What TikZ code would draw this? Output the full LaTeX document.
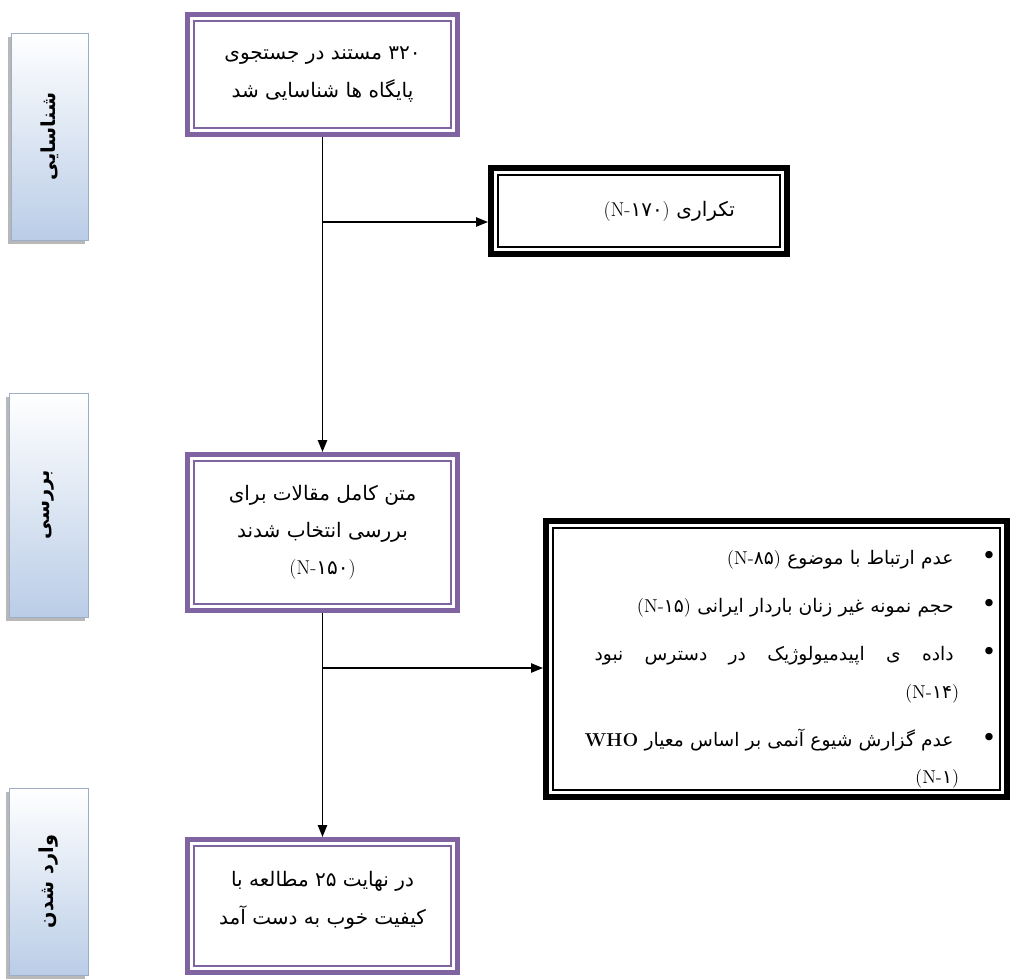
\documentclass[tikz,border=0pt]{standalone}
\usepackage{fontspec}
\usepackage{graphicx}
\usetikzlibrary{arrows.meta,shadows}
\TeXXeTstate=1
\newfontfamily\fafont[Script=Arabic]{DejaVu Sans}
\newfontfamily\fanum{DejaVu Sans}
\newcommand{\faline}[1]{\beginR#1\endR}
\newcommand{\nval}[1]{\beginL{\rmfamily(N-}{\fanum#1}{\rmfamily)}\endL}
\newcommand{\fabullet}{{\fontsize{19}{28}\selectfont•}\hspace{21pt}}
\newcommand{\sidetext}[1]{\rotatebox{90}{\fafont\bfseries\fontsize{14.5}{16}\selectfont\faline{#1}}}
\definecolor{boxPurple}{RGB}{128,100,162}
\definecolor{sideBlue}{RGB}{186,205,231}
\definecolor{sideEdge}{RGB}{158,174,198}
\tikzset{
  stagebox/.style={draw=boxPurple, line width=3.5pt, fill=white, minimum width=202.75pt,
    align=center, font=\fafont\fontsize{15}{28}\selectfont},
  innerPurple/.style={draw=boxPurple, line width=1.1pt},
  excludebox/.style={draw=black, line width=4.5pt, fill=white, font=\fafont\fontsize{15}{28}\selectfont},
  innerBlack/.style={draw=black, line width=1.1pt},
  sidelabel/.style={draw=sideEdge, line width=0.6pt, top color=white, bottom color=sideBlue,
    drop shadow={shadow xshift=-2.5pt, shadow yshift=-3pt, fill=gray!70, opacity=0.8}},
  flowline/.style={line width=1.1pt, -{Triangle[length=9pt,width=7pt]}}
}
\begin{document}
\begin{tikzpicture}[x=0.75pt,y=0.75pt,yscale=-1,xscale=1]
\useasboundingbox (0,0) rectangle (1013,978);

%Side labels
\node[sidelabel, minimum width=57.75pt, minimum height=155.25pt] (lbIdent) at (49.5,136.5) {\sidetext{شناسایی}};
\node[sidelabel, minimum width=59.25pt, minimum height=168pt] (lbScreen) at (48.5,505) {\sidetext{بررسی}};
\node[sidelabel, minimum width=59.25pt, minimum height=140.25pt] (lbIncl) at (48.5,881.5) {\sidetext{وارد شدن}};

%Shape: Rectangle [identification]
\node[stagebox, minimum height=90.25pt] (ident) at (322.5,74.5)
  {\faline{۳۲۰ مستند در جستجوی}\\\faline{پایگاه ها شناسایی شد}};
%Shape: Rectangle [screening]
\node[stagebox, minimum height=117.25pt] (screen) at (322.5,532.5)
  {\faline{متن کامل مقالات برای}\\\faline{بررسی انتخاب شدند}\\\faline{\nval{۱۵۰}}};
%Shape: Rectangle [included]
\node[stagebox, minimum height=100pt] (incl) at (322.5,906)
  {\faline{در نهایت ۲۵ مطالعه با}\\\faline{کیفیت خوب به دست آمد}\rule[-12pt]{0pt}{12pt}};

%Shape: Rectangle [duplicates]
\node[excludebox, minimum width=222pt, minimum height=64.5pt, text width=144pt, align=right] (dup) at (639,211)
  {\faline{تکراری \nval{۱۷۰}}};
%Shape: Rectangle [excluded]
\node[excludebox, font=\fafont\fontsize{14}{28}\selectfont, minimum width=345.75pt, minimum height=207pt,
    text width=330pt, align=right] (excl) at (776.5,659)
  {\faline{\fabullet عدم ارتباط با موضوع \nval{۸۵}}\rule{0pt}{26pt}\\[8.25pt]
   \faline{\fabullet حجم نمونه غیر زنان باردار ایرانی \nval{۱۵}}\\[8.25pt]
   \faline{\fabullet داده\hspace{16pt}ی\hspace{16pt}اپیدمیولوژیک\hspace{16pt}در\hspace{16pt}دسترس\hspace{16pt}نبود}\\
   \faline{\hspace*{28pt}\nval{۱۴}}\\[8.25pt]
   \faline{\fabullet عدم گزارش شیوع آنمی بر اساس معیار \beginL{\rmfamily\bfseries WHO}\endL}\\
   \faline{\hspace*{28pt}\nval{۱}}};

%Inner borders
\foreach \b in {ident,screen,incl}
  \draw[innerPurple] ([shift={(9,9)}]\b.north west) rectangle ([shift={(-9,-9)}]\b.south east);
\foreach \b in {dup,excl}
  \draw[innerBlack] ([shift={(10,10)}]\b.north west) rectangle ([shift={(-10,-10)}]\b.south east);

%Straight Lines
\draw[flowline] (ident) -- (screen);
\coordinate (dupIn) at ([shift={(0,11)}]dup.west);
\draw[flowline] (ident.south |- dupIn) -- (dupIn);
\draw[flowline] (screen) -- (incl);
\coordinate (exclIn) at ([shift={(0,9)}]excl.west);
\draw[flowline] (screen.south |- exclIn) -- (exclIn);

\end{tikzpicture}
\end{document}
